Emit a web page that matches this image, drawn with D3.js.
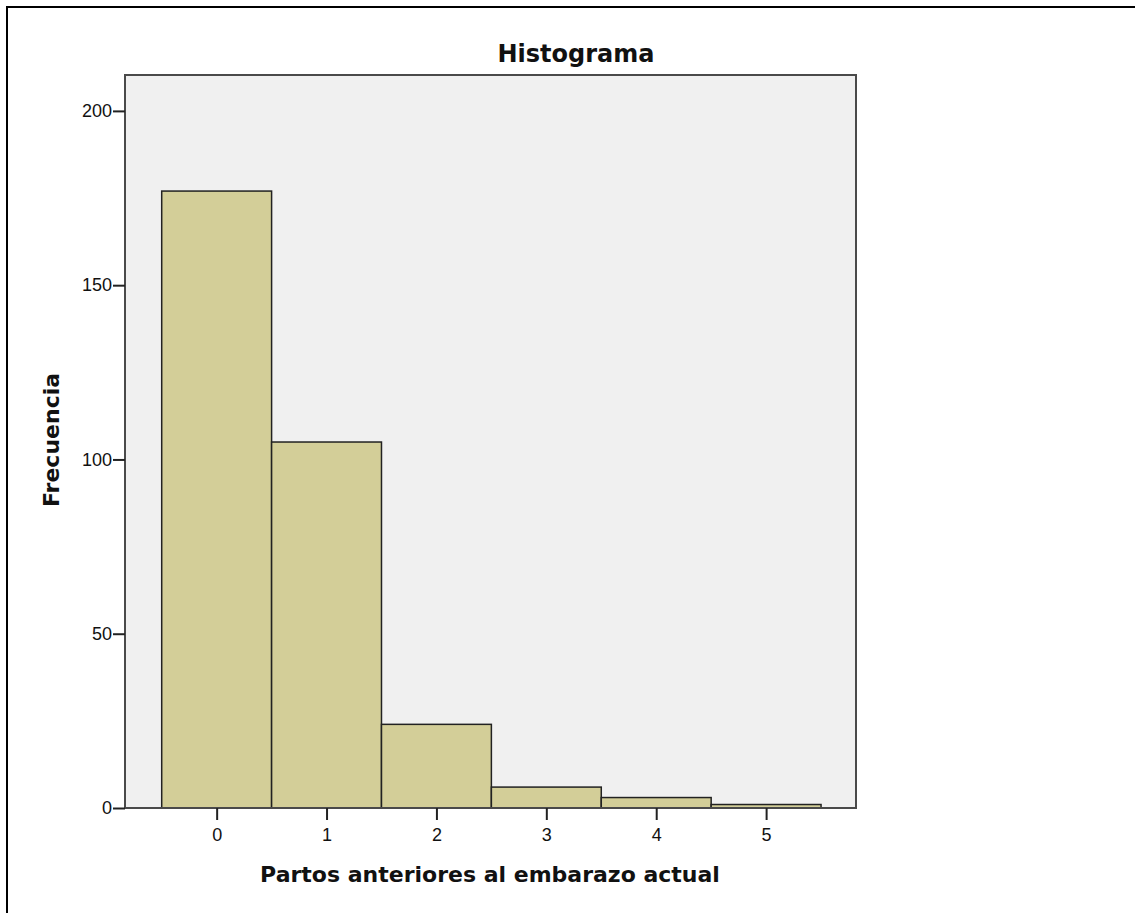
<!DOCTYPE html>
<html>
<head>
<meta charset="utf-8">
<script src="https://cdn.jsdelivr.net/npm/d3@7"></script>
<style>
  html, body { margin: 0; padding: 0; background: #fff; }
  svg { display: block; font-family: "DejaVu Sans", Verdana, sans-serif; }
</style>
</head>
<body>
<script>
const categories = [0, 1, 2, 3, 4, 5];
const frequencies = [177, 105, 24, 6, 3, 1];
const yTicks = [0, 50, 100, 150, 200];
const xTicks = [0, 1, 2, 3, 4, 5];
const title = "Histograma";
const xLabel = "Partos anteriores al embarazo actual";
const yLabel = "Frecuencia";

const W = 1135, H = 913;
const plot = { left: 125, top: 75, right: 856, bottom: 808 };
const TICKFONT = "'Liberation Sans', Arial, sans-serif";

const svg = d3.select("body").append("svg").attr("width", W).attr("height", H);

// outer border (cropped on right/bottom)
svg.append("rect").attr("x", 7).attr("y", 7).attr("width", W).attr("height", H)
  .attr("fill", "#fff").attr("stroke", "#000").attr("stroke-width", 2);

const x = d3.scaleLinear().domain([-0.834, 5.818]).range([plot.left, plot.right]);
const y = d3.scaleLinear().domain([0, 210.3]).range([plot.bottom, plot.top]);

// plot background
svg.append("rect").attr("x", plot.left).attr("y", plot.top)
  .attr("width", plot.right - plot.left).attr("height", plot.bottom - plot.top)
  .attr("fill", "#f0f0f0");

// bars
svg.append("g").selectAll("rect").data(categories).join("rect")
  .attr("x", (d) => x(d - 0.5))
  .attr("width", (d) => x(d + 0.5) - x(d - 0.5))
  .attr("y", (d, i) => y(frequencies[i]))
  .attr("height", (d, i) => y(0) - y(frequencies[i]))
  .attr("fill", "#d3ce98")
  .attr("stroke", "#222")
  .attr("stroke-width", 1.5);

// frame
svg.append("rect").attr("x", plot.left).attr("y", plot.top)
  .attr("width", plot.right - plot.left).attr("height", plot.bottom - plot.top)
  .attr("fill", "none").attr("stroke", "#4a4a4a").attr("stroke-width", 2);

// axes
const yAxis = d3.axisLeft(y).tickValues(yTicks).tickSize(12).tickPadding(1).tickFormat(d3.format("d"));
const gy = svg.append("g").attr("transform", `translate(${plot.left},0)`).call(yAxis);
gy.select(".domain").remove();
gy.selectAll(".tick line").attr("stroke", "#222").attr("stroke-width", 2);
gy.selectAll(".tick text").attr("font-size", 18).attr("fill", "#111").attr("font-family", TICKFONT);

const xAxis = d3.axisBottom(x).tickValues(xTicks).tickSize(12).tickPadding(8).tickFormat(d3.format("d"));
const gx = svg.append("g").attr("transform", `translate(0,${plot.bottom})`).call(xAxis);
gx.select(".domain").remove();
gx.selectAll(".tick line").attr("stroke", "#222").attr("stroke-width", 2);
gx.selectAll(".tick text").attr("font-size", 18).attr("fill", "#111").attr("font-family", TICKFONT);

// title & labels
svg.append("text").attr("x", 576).attr("y", 62).attr("text-anchor", "middle")
  .attr("font-size", 24).attr("font-weight", "bold").attr("fill", "#111").text(title);

svg.append("text").attr("x", 490).attr("y", 882).attr("text-anchor", "middle")
  .attr("font-size", 22).attr("font-weight", "bold").attr("fill", "#111").text(xLabel);

svg.append("text").attr("transform", "translate(59,440) rotate(-90)").attr("text-anchor", "middle")
  .attr("font-size", 22).attr("font-weight", "bold").attr("fill", "#111").text(yLabel);
</script>
</body>
</html>
